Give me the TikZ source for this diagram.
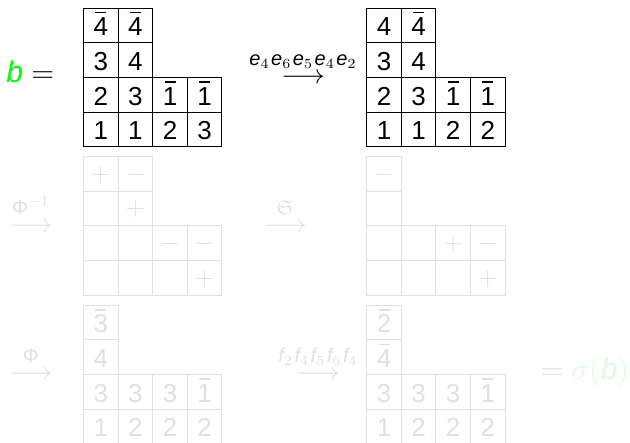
\RequirePackage{fix-cm}
\documentclass[tikz,border=0pt]{standalone}
\usepackage{amsmath,amssymb}
\usepackage{fontspec}
\setmainfont{Liberation Sans}
\colorlet{fade}{black!12}
\colorlet{fadegreen}{green!14}
\newcommand\ov[1]{\setbox0\hbox{#1}\hbox to \wd0{\hss\raisebox{11.2pt}{\rule{5.5pt}{0.65pt}}\hss}\kern-\wd0\box0}
\newcommand\lbl[1]{\raisebox{1.5pt}{\fontsize{10}{12}\selectfont$#1$}}
\newcommand\tabl[3]{%
  \foreach \cx/\cy/\ct in {#3} {\node[cell] (#1-\cx-\cy) at ({#2+34.6*\cx-17.3},{\tabY+34.6*\cy-17.3}) {\ct};}}
\tikzset{
  cell/.style={draw, line width=0.55pt, minimum size=17.3pt, inner sep=0pt,
    text height=10.3pt, text depth=0pt, font=\fontsize{13}{15}\selectfont},
  lab/.style={inner sep=0pt, font=\fontsize{13.5}{16}\selectfont},
  big/.style={inner sep=0pt, font=\fontsize{15}{18}\selectfont},
  faded/.style={cell/.append style={draw=fade, text=fade}, lab/.append style={text=fade}, big/.append style={text=fade}},
  signs/.style={cell/.append style={text height=7.3pt}}
}
\begin{document}
\begin{tikzpicture}[x=0.5pt,y=-0.5pt]
\useasboundingbox (0,0) rectangle (630,443);
% row 1
\def\tabY{8.3}
\tabl{A}{83.5}{1/1/\ov{4}, 2/1/\ov{4}, 1/2/3, 2/2/4, 1/3/2, 2/3/3, 3/3/\ov{1}, 4/3/\ov{1}, 1/4/1, 2/4/1, 3/4/2, 4/4/3}
\tabl{B}{366.7}{1/1/4, 2/1/\ov{4}, 1/2/3, 2/2/4, 1/3/2, 2/3/3, 3/3/\ov{1}, 4/3/\ov{1}, 1/4/1, 2/4/1, 3/4/2, 4/4/2}
\node[big, anchor=base west] (bl) at (6,83) {$\textcolor{green}{\textit{b}} =$};
\node[lab, anchor=base] (a1) at (303,83.5) {$\stackrel{\lbl{\textit{e}_4\mkern1.5mu\textit{e}_6\mkern1.5mu\textit{e}_5\mkern1.5mu\textit{e}_4\mkern1.5mu\textit{e}_2}}{\longrightarrow}$};
% rows 2 and 3 (faded)
\begin{scope}[faded]
\begin{scope}[signs]
\def\tabY{156.7}
\tabl{C}{83.5}{1/1/$+$, 2/1/$-$, 1/2/{}, 2/2/$+$, 1/3/{}, 2/3/{}, 3/3/$-$, 4/3/$-$, 1/4/{}, 2/4/{}, 3/4/{}, 4/4/$+$}
\tabl{D}{366.7}{1/1/$-$, 1/2/{}, 1/3/{}, 2/3/{}, 3/3/$+$, 4/3/$-$, 1/4/{}, 2/4/{}, 3/4/{}, 4/4/$+$}
\end{scope}
\def\tabY{305.3}
\tabl{E}{83.5}{1/1/\ov{3}, 1/2/4, 1/3/3, 2/3/3, 3/3/3, 4/3/\ov{1}, 1/4/1, 2/4/2, 3/4/2, 4/4/2}
\tabl{F}{366.7}{1/1/\ov{2}, 1/2/\ov{4}, 1/3/3, 2/3/3, 3/3/3, 4/3/\ov{1}, 1/4/1, 2/4/2, 3/4/2, 4/4/2}
\node[lab, anchor=base] (a2) at (30.8,232.5) {$\stackrel{\lbl{\text{Φ}^{-1}}}{\longrightarrow}$};
\node[lab, anchor=base] (a3) at (285,232.5) {$\stackrel{\lbl{\mathfrak{S}}}{\longrightarrow}$};
\node[lab, anchor=base] (a4) at (30.8,380.5) {$\stackrel{\lbl{\text{Φ}}}{\longrightarrow}$};
\node[lab, anchor=base] (a5) at (318,380.5) {$\stackrel{\lbl{\textit{f}_2\mkern1.5mu\textit{f}_4\mkern1.5mu\textit{f}_5\mkern1.5mu\textit{f}_6\mkern1.5mu\textit{f}_4}}{\longrightarrow}$};
\node[big, anchor=base west] (sg) at (540,379.5) {$= \textcolor{fadegreen}{\sigma(\textit{b})}$};
\end{scope}
\end{tikzpicture}
\end{document}
